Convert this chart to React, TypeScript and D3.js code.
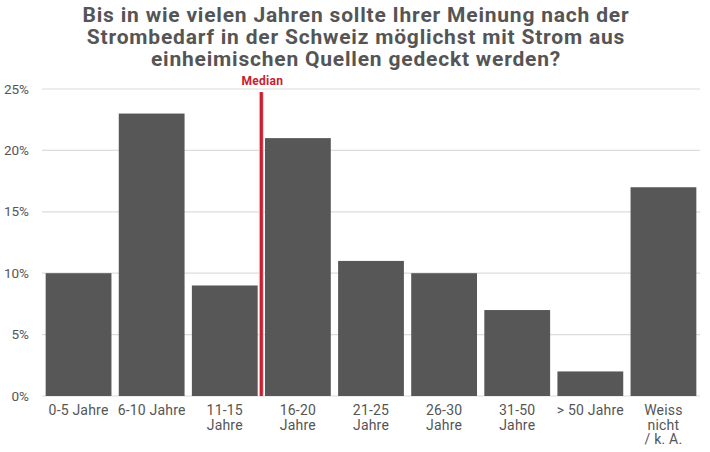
import * as d3 from "d3";
import React from "react";

const title = [
  "Bis in wie vielen Jahren sollte Ihrer Meinung nach der",
  "Strombedarf in der Schweiz möglichst mit Strom aus",
  "einheimischen Quellen gedeckt werden?",
];
const categories = [
  "0-5 Jahre",
  "6-10 Jahre",
  "11-15 Jahre",
  "16-20 Jahre",
  "21-25 Jahre",
  "26-30 Jahre",
  "31-50 Jahre",
  "> 50 Jahre",
  "Weiss nicht / k. A.",
];
const labelLines = [
  ["0-5 Jahre"],
  ["6-10 Jahre"],
  ["11-15", "Jahre"],
  ["16-20", "Jahre"],
  ["21-25", "Jahre"],
  ["26-30", "Jahre"],
  ["31-50", "Jahre"],
  ["> 50 Jahre"],
  ["Weiss", "nicht", "/ k. A."],
];
const values = [10, 23, 9, 21, 11, 10, 7, 2, 17];
const yTicks = [0, 5, 10, 15, 20, 25];
const medianAfter = "11-15 Jahre";

const W = 710;
const H = 452;
const font = "Roboto, 'Liberation Sans', sans-serif";
const grey = "#575757";
const textGrey = "#555";
const red = "#c8202f";

export default function App() {
  const x = d3
    .scaleBand()
    .domain(categories)
    .range([42, 700])
    .paddingInner(0.1)
    .paddingOuter(0.05);
  const y = d3.scaleLinear().domain([0, 25]).range([396, 89]);

  const medianX =
    x(medianAfter) + x.bandwidth() + (x.step() * x.paddingInner()) / 2;

  return (
    <svg
      width={W}
      height={H}
      style={{ position: "absolute", left: 0, top: 0, background: "#fff" }}
      fontFamily={font}
    >
      {title.map((t, i) => (
        <text
          key={i}
          x={356}
          y={22 + i * 22}
          textAnchor="middle"
          fontSize={21}
          letterSpacing={0.8}
          fontWeight="bold"
          fill={textGrey}
        >
          {t}
        </text>
      ))}

      {yTicks.map((t) => (
        <g key={t}>
          <line x1={42} x2={700} y1={y(t)} y2={y(t)} stroke="#dcdcdc" strokeWidth={1.2} />
          <text x={29} y={y(t) + 4.5} textAnchor="end" fontSize={13.5} fill={textGrey}>
            {t}%
          </text>
        </g>
      ))}

      {categories.map((c, i) => (
        <rect
          key={c}
          x={x(c)}
          y={y(values[i])}
          width={x.bandwidth()}
          height={y(0) - y(values[i])}
          fill={grey}
        />
      ))}

      {categories.map((c, i) => (
        <text key={c} textAnchor="middle" fontSize={14} letterSpacing={0.2} fill={textGrey}>
          {labelLines[i].map((l, j) => (
            <tspan key={j} x={x(c) + x.bandwidth() / 2} y={415 + j * 14.5}>
              {l}
            </tspan>
          ))}
        </text>
      ))}

      <rect x={medianX - 2.5} y={y(24.75)} width={5} height={y(0) - y(24.75)} fill="#f3c6c9" />
      <rect x={medianX - 1.5} y={y(24.75)} width={3} height={y(0) - y(24.75)} fill={red} />
      <text x={medianX + 1} y={85} textAnchor="middle" fontSize={12} letterSpacing={0.3} fontWeight="bold" fill={red}>
        Median
      </text>
    </svg>
  );
}
